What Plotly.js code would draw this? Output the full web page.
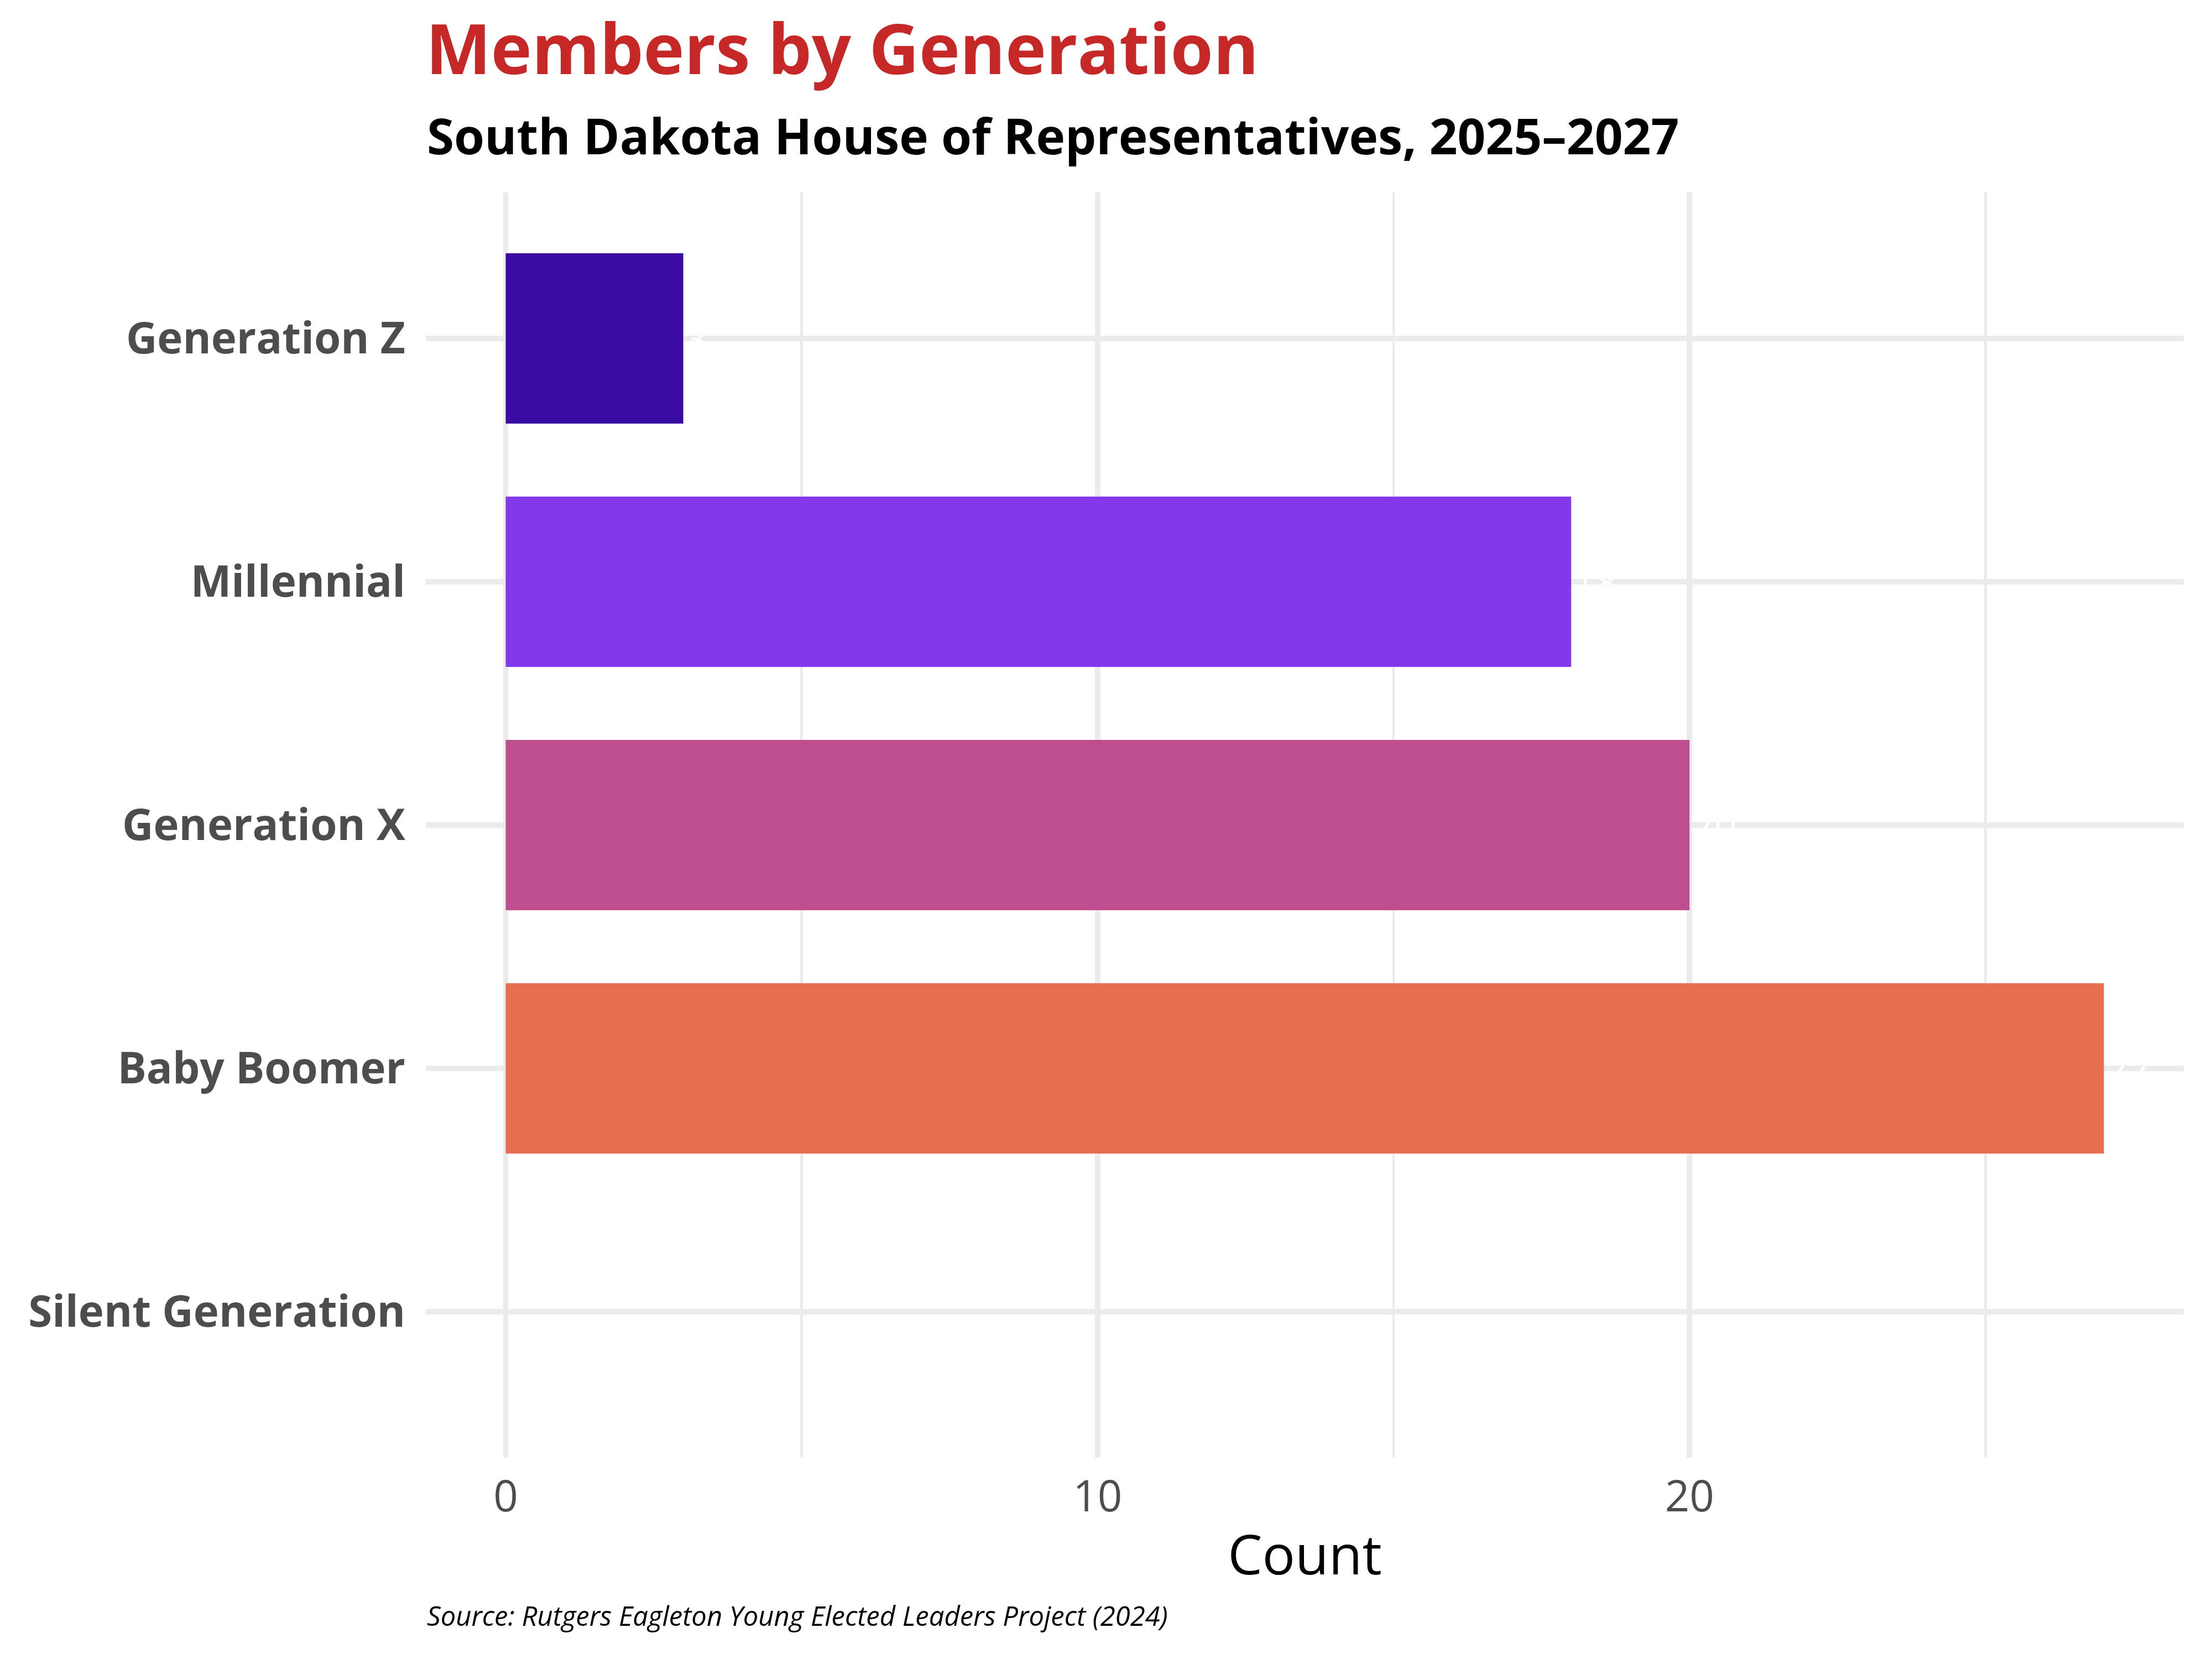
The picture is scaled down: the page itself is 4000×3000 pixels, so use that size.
<!DOCTYPE html>
<html>
<head>
<meta charset="utf-8">
<script src="https://cdn.plot.ly/plotly-3.0.1.min.js"></script>
<style>html,body{margin:0;padding:0;background:#fff;}#chart{width:4000px;height:3000px;}</style>
</head>
<body>
<div id="chart"></div>
<script>
// Data (bottom to top order on the axis)
var generations = ["Silent Generation", "Baby Boomer", "Generation X", "Millennial", "Generation Z"];
var counts = [0, 27, 20, 18, 3];
var barColors = ["#999999", "#E76F51", "#BE4F8E", "#8338EC", "#3A0CA3"];
var xTickValues = [0, 10, 20];

var titleText = "Members by Generation";
var subtitleText = "South Dakota House of Representatives, 2025\u20132027";
var captionText = "Source: Rutgers Eagleton Young Elected Leaders Project (2024)";
var xAxisTitle = "Count";

var FONT = "Open Sans, Noto Sans, DejaVu Sans, sans-serif";

var trace = {
  type: "bar",
  orientation: "h",
  y: generations,
  x: counts,
  width: 0.7,
  marker: {color: barColors, line: {width: 0}},
  text: counts.map(function (v) { return v > 0 ? String(v) : ""; }),
  textposition: "outside",
  textfont: {color: "#FFFFFF", size: 72, family: FONT},
  cliponaxis: false,
  hoverinfo: "skip"
};

var layout = {
  width: 4000,
  height: 3000,
  paper_bgcolor: "#FFFFFF",
  plot_bgcolor: "#FFFFFF",
  margin: {l: 770, r: 51, t: 348, b: 364, pad: 0},
  showlegend: false,
  font: {family: FONT},
  title: {
    text: "<b>" + titleText + "</b>",
    font: {family: FONT, size: 125, color: "#C62828"},
    xref: "container", x: 770 / 4000, xanchor: "left",
    yref: "container", y: 1 - 134 / 3000, yanchor: "bottom"
  },
  xaxis: {
    range: [-1.35, 28.35],
    tickvals: xTickValues,
    ticktext: xTickValues.map(String),
    showgrid: true,
    gridcolor: "#EBEBEB",
    gridwidth: 9.5,
    minor: {dtick: 5, tick0: 0, showgrid: true, gridcolor: "#EBEBEB", gridwidth: 4.8, ticks: ""},
    zeroline: false,
    showline: false,
    ticks: "",
    ticklabelstandoff: 18,
    tickfont: {family: FONT, size: 78, color: "#4D4D4D"},
    title: {text: xAxisTitle, font: {family: FONT, size: 99, color: "#000000"}, standoff: 22},
    fixedrange: true
  },
  yaxis: {
    type: "category",
    categoryorder: "array",
    categoryarray: generations,
    range: [-0.6, 4.6],
    showgrid: true,
    gridcolor: "#EBEBEB",
    gridwidth: 9.5,
    zeroline: false,
    showline: false,
    ticks: "",
    ticklabelstandoff: 36,
    tickfont: {family: FONT, size: 78, color: "#4D4D4D", weight: "bold"},
    fixedrange: true
  },
  annotations: [
    {
      text: "<b>" + subtitleText + "</b>",
      xref: "paper", x: 0, xanchor: "left",
      yref: "paper", y: (2636 - 307) / 2288, yanchor: "bottom",
      showarrow: false,
      font: {family: FONT, size: 89, color: "#000000"}
    },
    {
      text: "<i>" + captionText + "</i>",
      xref: "paper", x: 0, xanchor: "left",
      yref: "paper", y: -(2956 - 2636) / 2288, yanchor: "bottom",
      showarrow: false,
      font: {family: FONT, size: 49, color: "#000000"}
    }
  ]
};

Plotly.newPlot("chart", [trace], layout, {staticPlot: true, displayModeBar: false});
</script>
</body>
</html>
